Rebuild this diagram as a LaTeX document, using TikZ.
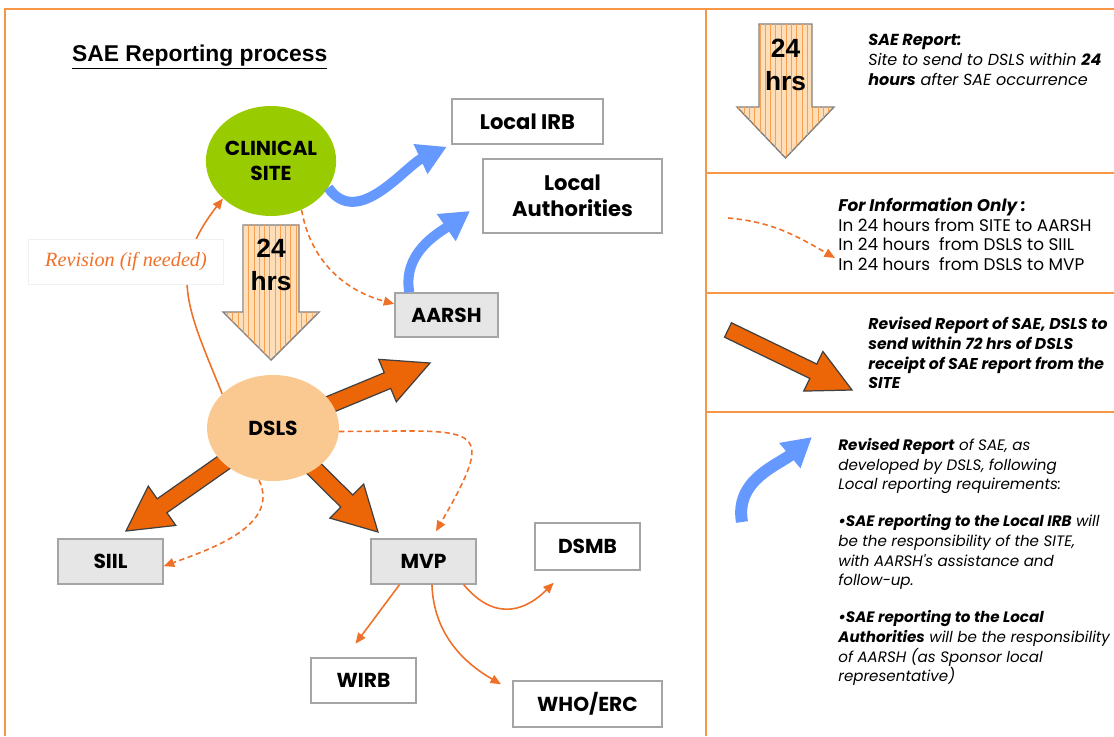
\documentclass[tikz,border=0pt]{standalone}
\usepackage{fontspec}
\usepackage{tikz}
\usetikzlibrary{arrows.meta,positioning,calc,patterns,shapes.geometric}

\newfontfamily\gothic{Poppins}
\newfontfamily\arialfont{Liberation Sans}
\newfontfamily\cambriait{Liberation Serif}

\definecolor{frameorange}{RGB}{247,150,70}
\definecolor{sitegreen}{RGB}{153,204,0}
\definecolor{dslspeach}{RGB}{250,200,145}
\definecolor{reportblue}{RGB}{102,153,255}
\definecolor{bigorange}{RGB}{236,102,8}
\definecolor{lineorange}{RGB}{240,112,40}
\definecolor{boxfill}{RGB}{230,230,230}
\definecolor{boxline}{RGB}{165,165,165}
\definecolor{hatchbg}{RGB}{253,222,185}
\definecolor{hatchline}{RGB}{247,160,80}

\pgfdeclarelayer{bg}
\pgfsetlayers{bg,main}

% block arrow: [style] tail, tip, half shaft, half head, head length
\newcommand{\blockarrow}[6][bigarrow]{%
  \coordinate (ba-base) at ($(#3)!#6!(#2)$);
  \draw[#1] ($(#2)!#4!90:(#3)$) -- ($(ba-base)!#4!90:(#3)$) -- ($(ba-base)!#5!90:(#3)$)
    -- (#3) -- ($(ba-base)!#5!-90:(#3)$) -- ($(ba-base)!#4!-90:(#3)$) -- ($(#2)!#4!-90:(#3)$) -- cycle;}

\tikzset{
  box/.style 2 args={draw=boxline, fill=white, line width=0.8pt, minimum width=#1*0.02cm,
    minimum height=#2*0.02cm, inner sep=0pt, align=center,
    font=\gothic\bfseries\fontsize{11.5}{13}\selectfont},
  graybox/.style 2 args={box={#1}{#2}, fill=boxfill},
  bignode/.style={font=\gothic\bfseries\fontsize{12}{15}\selectfont},
  bluearrow/.style={draw=reportblue, line width=0.2cm, -{Triangle[width=0.62cm, length=0.58cm]}},
  thinarrow/.style={draw=lineorange, line width=0.9pt, -{Triangle[length=6pt, width=5pt]}},
  dasharrow/.style={thinarrow, dash pattern=on 3pt off 2pt},
  bigarrow/.style={draw=black!75, fill=bigorange, line width=0.7pt},
  hatcharrow/.style={draw=gray, line width=0.8pt, fill=hatchbg,
    postaction={pattern=vertical lines, pattern color=hatchline}},
  hrslabel/.style={font=\arialfont\bfseries\fontsize{15}{19}\selectfont, align=center},
  legendtext/.style={anchor=north west, inner sep=0pt, align=left,
    font=\gothic\fontsize{9.6}{11.1}\selectfont},
  frameline/.style={draw=frameorange, line width=1.3pt},
}

\begin{document}
\begin{tikzpicture}[x=0.02cm, y=-0.02cm]
  \useasboundingbox (0,0) rectangle (1114,736);

  % frame
  \draw[frameline] (5,736) -- (5,9) -- (1114,9);
  \draw[frameline] (706,9) -- (706,736);
  \foreach \yy in {173,293,412}
    \draw[frameline] (706,\yy) -- (1114,\yy);

  \node[anchor=west, font=\arialfont\bfseries\fontsize{13}{15}\selectfont] (title) at (66,57)
    {\underline{SAE Reporting process}};

  % nodes
  \node[ellipse, fill=sitegreen, minimum width=2.6cm, minimum height=2.2cm, inner sep=0pt,
    align=center, font=\gothic\bfseries\fontsize{11.5}{14}\selectfont] (site) at (271,161) {CLINICAL\\SITE};
  \node[ellipse, fill=dslspeach, minimum width=2.64cm, minimum height=2.12cm, inner sep=0pt,
    font=\gothic\bfseries\fontsize{11.5}{14}\selectfont] (dsls) at (273,428) {DSLS};
  \node[box={151}{45}, bignode] (irb) at (527.5,121.5) {Local IRB};
  \node[box={179}{74}, bignode] (auth) at (572.5,196) {Local\\Authorities};
  \node[graybox={103}{44}] (aarsh) at (446.5,315) {AARSH};
  \node[graybox={105}{45}] (siil) at (110.5,561.5) {SIIL};
  \node[graybox={105}{45}] (mvp) at (423.5,561.5) {MVP};
  \node[box={105}{47}] (dsmb) at (587.5,546.5) {DSMB};
  \node[box={105}{45}] (wirb) at (363.5,680.5) {WIRB};
  \node[box={149}{46}] (who) at (587.5,704) {WHO/ERC};

  % 24 hrs site -> dsls
  \coordinate (hrs-top) at (271,225);
  \coordinate (hrs-tip) at (271,360);
  \blockarrow[hatcharrow]{hrs-top}{hrs-tip}{0.56cm}{0.96cm}{0.96cm}
  \node[hrslabel] (hrs) at (271,265) {24\\hrs};

  % revised reports to local bodies
  \coordinate (auth-tip) at (470,211);
  \draw[bluearrow, shorten >=0.1cm] (site.-25) to[out=-55, in=205] (irb.south west);
  \draw[bluearrow] ($(aarsh.north west)+(15,0)$) to[out=100, in=215] (auth-tip);

  % information only
  \draw[dasharrow] (site.-58) to[out=-80, in=165] (aarsh.168);
  \draw[dasharrow] (dsls.-105) to[out=-65, in=20] (siil.-5);
  \draw[dasharrow, shorten >=0.16cm] (dsls.-3) to[out=0, in=60, looseness=2.5] (mvp.70);

  % revision
  \draw[thinarrow] (dsls.146) to[out=112, in=232, looseness=1.2] (site.218);
  \node[fill=white, draw=gray!12, minimum width=3.9cm, minimum height=0.9cm, text=lineorange,
    font=\cambriait\itshape\fontsize{11.5}{13}\selectfont] (revision) at (126,262) {Revision (if needed)};

  % dsls reports
  \coordinate (up-tip) at (430,363);
  \coordinate (siil-tip) at (126,531);
  \coordinate (mvp-tip) at (378,532);
  \begin{pgfonlayer}{bg}
    \blockarrow{dsls.center}{up-tip}{0.17cm}{0.46cm}{0.92cm}
    \blockarrow{dsls.center}{siil-tip}{0.17cm}{0.48cm}{0.88cm}
    \blockarrow{dsls.center}{mvp-tip}{0.17cm}{0.48cm}{0.88cm}
  \end{pgfonlayer}

  % mvp onwards
  \draw[thinarrow, shorten >=0.34cm] (mvp.-136) -- (wirb.128);
  \draw[thinarrow, shorten >=0.26cm] (mvp.-70) to[out=-88, in=150] (who.170);
  \draw[thinarrow, shorten >=0.34cm] (mvp.-30) to[out=-50, in=225, looseness=1.3] (dsmb.-132);

  % legend
  \coordinate (lg-hrs-top) at (785.5,24);
  \coordinate (lg-hrs-tip) at (785.5,158);
  \blockarrow[hatcharrow]{lg-hrs-top}{lg-hrs-tip}{0.53cm}{0.97cm}{1.02cm}
  \node[hrslabel] (lg-hrs) at (785.5,65) {24\\hrs};
  \node[legendtext, font=\gothic\itshape\fontsize{9.1}{11.2}\selectfont] (lg-report) at (868,34)
    {\textbf{SAE Report:}\\Site to send to DSLS within \textbf{24}\\\textbf{hours} after SAE occurrence};

  \coordinate (lg-dash-a) at (728,218);
  \coordinate (lg-dash-b) at (835,258);
  \draw[dasharrow] (lg-dash-a) to[out=-5, in=150] (lg-dash-b);
  \node[legendtext] (lg-info) at (838,198)
    {\textbf{\textit{For Information Only :}}\\In 24 hours from SITE to AARSH\\In 24 hours~ from DSLS to SIIL\\In 24 hours~ from DSLS to MVP};

  \coordinate (lg-big-a) at (728,330);
  \coordinate (lg-big-b) at (852,390);
  \blockarrow{lg-big-a}{lg-big-b}{0.16cm}{0.44cm}{0.86cm}
  \node[legendtext, font=\gothic\bfseries\itshape\fontsize{8.9}{11.2}\selectfont] (lg-revised) at (868,317)
    {Revised Report of SAE, DSLS to\\send within 72 hrs of DSLS\\receipt of SAE report from the\\SITE};

  \coordinate (lg-blue-a) at (742,522);
  \coordinate (lg-blue-b) at (812,437);
  \draw[bluearrow, line width=0.24cm] (lg-blue-a) to[out=100, in=220] (lg-blue-b);
  \node[legendtext, font=\gothic\itshape\fontsize{8.6}{11.2}\selectfont] (lg-local) at (838,438)
    {\textbf{Revised Report} of SAE, as\\developed by DSLS, following\\Local reporting requirements:\\[9.8pt]
     \textbf{•SAE reporting to the Local IRB} will\\be the responsibility of the SITE,\\with AARSH's assistance and\\follow-up.\\[9.8pt]
     \textbf{•SAE reporting to the Local}\\\textbf{Authorities} will be the responsibility\\of AARSH (as Sponsor local\\representative)};
\end{tikzpicture}
\end{document}
